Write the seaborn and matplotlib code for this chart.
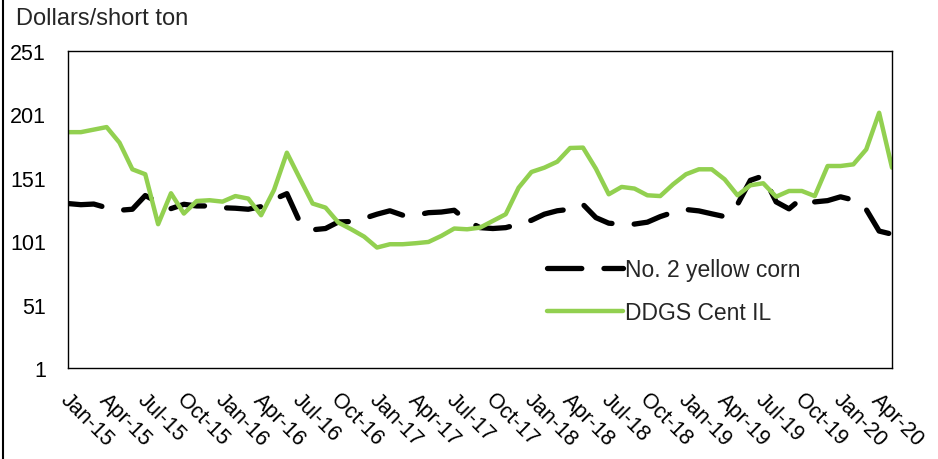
import pandas as pd
import matplotlib
matplotlib.use('Agg')
import matplotlib.pyplot as plt
import matplotlib.transforms as mtransforms
from matplotlib.lines import Line2D
import seaborn as sns

sns.set_style('white')
plt.rcParams['font.family'] = ['Liberation Sans', 'DejaVu Sans']

# monthly prices, Jan-15 .. May-20 (dollars/short ton)
months = pd.date_range('2015-01-01', periods=65, freq='MS')
corn = [130.7, 129.8, 130.3, 127.4, 125.4, 126.2, 137.0, 131.7, 126.7, 130.1,
        128.8, 128.8, 127.4, 127.0, 126.2, 128.3, 134.0, 138.5, 116.2, 110.0,
        111.0, 116.2, 116.5, 119.0, 122.3, 125.0, 121.5, 121.5, 123.5, 124.0,
        125.4, 117.0, 111.7, 111.0, 111.7, 114.4, 117.5, 122.3, 125.0, 126.2,
        130.0, 119.6, 115.2, 114.4, 114.5, 116.0, 120.4, 123.8, 126.0, 124.9,
        122.6, 120.4, 130.0, 149.0, 152.5, 132.0, 126.5, 135.0, 132.0, 133.0,
        136.0, 133.5, 126.0, 109.0, 106.5]
ddgs = [187.0, 187.0, 189.0, 191.0, 178.7, 157.7, 153.8, 114.4, 138.8, 122.8,
        132.7, 133.3, 132.2, 136.6, 134.6, 121.5, 141.4, 170.8, 150.6, 130.7,
        127.5, 115.7, 110.4, 104.6, 96.0, 98.6, 98.6, 99.4, 100.4, 105.2,
        111.0, 110.4, 111.7, 117.0, 122.3, 143.2, 155.6, 159.0, 163.7, 174.5,
        174.8, 158.2, 138.0, 143.8, 142.5, 137.2, 136.6, 145.9, 153.8, 157.7,
        157.7, 149.8, 137.2, 145.1, 146.7, 136.1, 140.6, 140.6, 136.6, 160.3,
        160.3, 161.6, 173.4, 202.3, 159.0]
tick_labels = ['Jan-15', 'Apr-15', 'Jul-15', 'Oct-15', 'Jan-16', 'Apr-16', 'Jul-16', 'Oct-16',
               'Jan-17', 'Apr-17', 'Jul-17', 'Oct-17', 'Jan-18', 'Apr-18', 'Jul-18', 'Oct-18',
               'Jan-19', 'Apr-19', 'Jul-19', 'Oct-19', 'Jan-20', 'Apr-20']
y_ticks = [1, 51, 101, 151, 201, 251]

df = pd.DataFrame({'month': range(len(months)), 'corn': corn, 'ddgs': ddgs})

fig = plt.figure(figsize=(9.38, 4.6), dpi=100)
ax = fig.add_axes([68 / 938, 1 - 369 / 460, (892 - 68) / 938, (369 - 52) / 460])

sns.lineplot(data=df, x='month', y='corn', ax=ax, color='black', linewidth=3.8,
             linestyle=(0, (6.5, 4.2)), dash_capstyle='round', label='No. 2 yellow corn')
sns.lineplot(data=df, x='month', y='ddgs', ax=ax, color='#92D050', linewidth=3.2,
             label='DDGS Cent IL')

ax.set_xlim(0, len(months) - 1)
ax.set_ylim(1, 251)
ax.set_yticks(y_ticks)
ax.set_xticks(range(0, 64, 3))
ax.set_xticklabels(tick_labels, rotation=-45, ha='left', va='top', rotation_mode='anchor')
ax.set_xlabel('')
ax.set_ylabel('')
ax.tick_params(axis='both', which='both', direction='out', length=7, width=1,
               color='black', labelsize=15.5, labelcolor='black')
ax.tick_params(axis='y', pad=9)
ax.tick_params(axis='x', pad=8)
offset = mtransforms.ScaledTranslation(3 / 100, 0, fig.dpi_scale_trans)
for lab in ax.get_xticklabels():
    lab.set_transform(lab.get_transform() + offset)
for side in ['left', 'bottom', 'top', 'right']:
    ax.spines[side].set_visible(True)
    ax.spines[side].set_color('black')
    ax.spines[side].set_linewidth(1)
ax.grid(False)

ax.legend(loc='upper left', bbox_to_anchor=((547 - 68) / 824, (369 - 259) / 317),
          frameon=False, fontsize=16.5, handlelength=3.3, handletextpad=0.1,
          labelspacing=0.88, borderpad=0, borderaxespad=0)

fig.text(16 / 938, 1 - 19 / 460, 'Dollars/short ton', fontsize=17, ha='left', va='center')
fig.add_artist(Line2D([3 / 938, 3 / 938], [0, 1], transform=fig.transFigure,
                      color='black', linewidth=1.5))

fig.savefig('out.png', dpi=100)
